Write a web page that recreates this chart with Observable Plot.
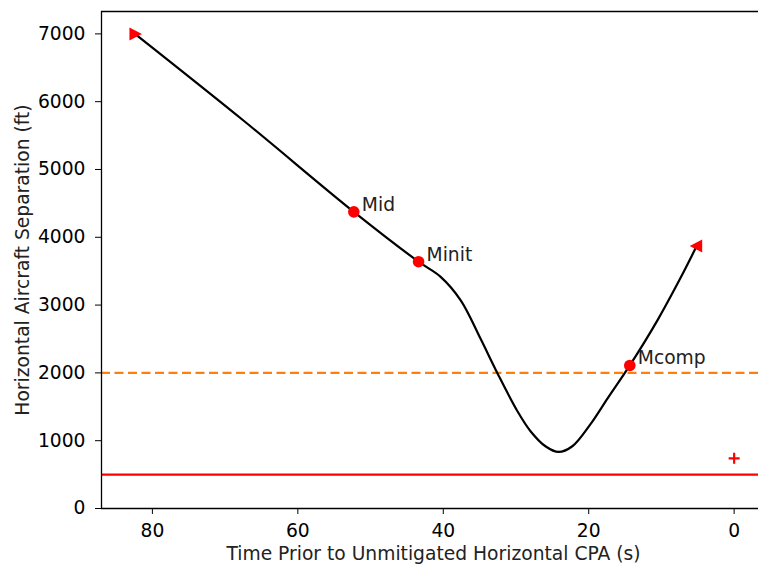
<!DOCTYPE html>
<html>
<head>
<meta charset="utf-8">
<script src="https://cdn.jsdelivr.net/npm/d3@7"></script>
<script src="https://cdn.jsdelivr.net/npm/@observablehq/plot@0.6"></script>
<style>
  html, body { margin: 0; padding: 0; background: #fff; }
  #chart svg { display: block; }
</style>
</head>
<body>
<div id="chart"></div>
<script>
// Encounter track: time before unmitigated CPA (s) vs horizontal separation (ft)
const trackTime = [82.4, 67.4, 52.3, 43.4, 40.4, 37.6, 34.9, 32.55, 29.8, 28.0, 25.95, 24.15, 22.25, 19.75, 17.4, 14.35, 10.55, 7.4, 5.15];
const trackSep  = [7000, 5715, 4375, 3640, 3420, 3070, 2510, 1995, 1435, 1140, 918, 834, 918, 1245, 1625, 2110, 2775, 3395, 3870];

// Named manoeuvre points
const eventNames = ["Mid", "Minit", "Mcomp"];
const eventTime  = [52.3, 43.4, 14.35];
const eventSep   = [4375, 3640, 2110];

// Track start / end markers
const startTime = [82.4], startSep = [7000];
const endTime = [5.15], endSep = [3870];

// Unmitigated CPA
const cpaTime = [0], cpaSep = [740];

// Threshold lines
const nmacThreshold = [500];
const wellClearThreshold = [2000];

// Axes
const xDomain = [87.0, -3.35];
const yDomain = [0, 7330];
const xTicks = [80, 60, 40, 20, 0];
const yTicks = [0, 1000, 2000, 3000, 4000, 5000, 6000, 7000];
const xLabel = "Time Prior to Unmitigated Horizontal CPA (s)";
const yLabel = "Horizontal Aircraft Separation (ft)";

const track = trackTime.map((t, i) => ({t, sep: trackSep[i]}));
const events = eventNames.map((name, i) => ({name, t: eventTime[i], sep: eventSep[i]}));
const starts = startTime.map((t, i) => ({t, sep: startSep[i]}));
const ends = endTime.map((t, i) => ({t, sep: endSep[i]}));
const cpa = cpaTime.map((t, i) => ({t, sep: cpaSep[i]}));

// Custom marker shapes
const triangleRight = {draw(ctx) { ctx.moveTo(-5.5, -6.5); ctx.lineTo(7, 0); ctx.lineTo(-5.5, 6.5); ctx.closePath(); }};
const triangleLeft  = {draw(ctx) { ctx.moveTo(5.5, -6.5); ctx.lineTo(-7, 0); ctx.lineTo(5.5, 6.5); ctx.closePath(); }};
const plusMark      = {draw(ctx) { ctx.moveTo(-5.5, 0); ctx.lineTo(5.5, 0); ctx.moveTo(0, -5.5); ctx.lineTo(0, 5.5); }};

const font = "DejaVu Sans";
const fs = 18.7;

const chart = Plot.plot({
  width: 758,
  height: 568,
  marginLeft: 101,
  marginRight: 0,
  marginTop: 11,
  marginBottom: 60,
  style: {fontFamily: font, fontSize: fs + "px", background: "white", color: "black"},
  x: {domain: xDomain, label: null},
  y: {domain: yDomain, label: null},
  marks: [
    Plot.ruleY(nmacThreshold, {stroke: "#ff0000", strokeWidth: 2.2}),
    Plot.ruleY(wellClearThreshold, {stroke: "#ff7f0e", strokeWidth: 2.2, strokeDasharray: "9,4.5"}),
    Plot.line(track, {x: "t", y: "sep", curve: "catmull-rom", stroke: "black", strokeWidth: 2.2}),
    Plot.dot(events, {x: "t", y: "sep", r: 5.8, fill: "#ff0000", stroke: "none"}),
    Plot.dot(starts, {x: "t", y: "sep", symbol: triangleRight, fill: "#ff0000", stroke: "none"}),
    Plot.dot(ends, {x: "t", y: "sep", symbol: triangleLeft, fill: "#ff0000", stroke: "none"}),
    Plot.dot(cpa, {x: "t", y: "sep", symbol: plusMark, stroke: "#ff0000", strokeWidth: 2.2, fill: "none"}),
    Plot.text(events, {x: "t", y: "sep", text: "name", textAnchor: "start", lineAnchor: "bottom", dx: 8, dy: -1, fontSize: fs, fill: "#222"}),
    // spines
    Plot.ruleY([yDomain[0], yDomain[1]], {stroke: "black", strokeWidth: 1.3}),
    Plot.ruleX([xDomain[0]], {stroke: "black", strokeWidth: 1.3}),
    Plot.axisX({ticks: xTicks, tickSize: 6, tickPadding: 9, label: null, fontSize: fs, tickFormat: d => String(d)}),
    Plot.axisY({ticks: yTicks, tickSize: 6, tickPadding: 10, label: null, fontSize: fs, tickFormat: d => String(d)}),
    Plot.text([xLabel], {frameAnchor: "bottom", text: d => d, textAnchor: "middle", dx: 3.5, dy: 46, lineAnchor: "middle", fontSize: fs, fill: "#222"}),
    Plot.text([yLabel], {frameAnchor: "left", text: d => d, textAnchor: "middle", rotate: -90, dx: -78.7, lineAnchor: "middle", fontSize: fs, fill: "#222"})
  ]
});

document.getElementById("chart").appendChild(chart);
</script>
</body>
</html>
